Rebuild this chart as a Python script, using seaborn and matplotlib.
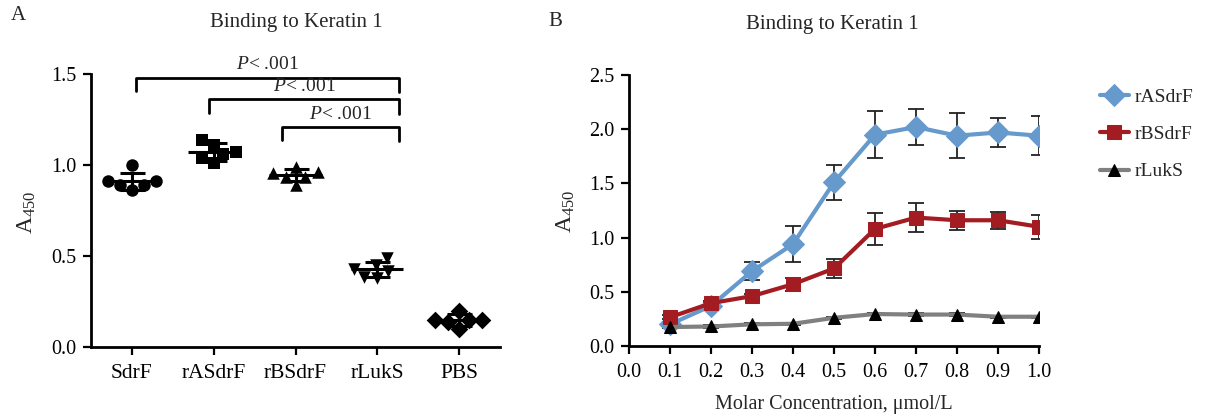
import matplotlib
matplotlib.use("Agg")
import matplotlib.pyplot as plt
import numpy as np
import pandas as pd
import seaborn as sns

# panel A: individual wells (A450)
groups = ["SdrF", "rASdrF", "rBSdrF", "rLukS", "PBS"]
sdrf = [0.91, 0.89, 1.00, 0.86, 0.89, 0.91]
rasdrf = [1.11, 1.06, 1.07, 1.01, 1.14, 1.04]
rbsdrf = [0.96, 0.935, 0.99, 0.89, 0.935, 0.955]
rluks = [0.45, 0.42, 0.49, 0.38, 0.385, 0.43]
pbs = [0.147, 0.15, 0.20, 0.10, 0.14, 0.147]
group_markers = ["o", "s", "^", "v", "D"]

# significance brackets: (left x, right x, bar y, label)
brackets = [(0.05, 3.27, 1.48, "P < .001"),
            (0.94, 3.27, 1.36, "P < .001"),
            (1.84, 3.27, 1.21, "P < .001")]

# panel B: dose response
conc = [0.1, 0.2, 0.3, 0.4, 0.5, 0.6, 0.7, 0.8, 0.9, 1.0]
ras_mean = [0.20, 0.37, 0.69, 0.94, 1.51, 1.95, 2.02, 1.94, 1.97, 1.94]
ras_sd = [0.02, 0.03, 0.085, 0.165, 0.16, 0.22, 0.17, 0.21, 0.13, 0.18]
rbs_mean = [0.265, 0.395, 0.46, 0.57, 0.715, 1.08, 1.185, 1.16, 1.16, 1.10]
rbs_sd = [0.02, 0.02, 0.02, 0.06, 0.09, 0.15, 0.135, 0.09, 0.08, 0.11]
luk_mean = [0.175, 0.18, 0.20, 0.205, 0.26, 0.295, 0.29, 0.29, 0.27, 0.27]
luk_sd = [0.01, 0.01, 0.01, 0.01, 0.01, 0.01, 0.01, 0.01, 0.01, 0.01]

sns.set_style("ticks")
plt.rcParams["font.family"] = ["Liberation Serif", "DejaVu Serif"]
plt.rcParams["mathtext.fontset"] = "custom"
plt.rcParams["mathtext.rm"] = "Liberation Serif"
plt.rcParams["mathtext.it"] = "Liberation Serif:italic"
plt.rcParams["font.size"] = 14

fig = plt.figure(figsize=(12.06, 4.19), dpi=100)
W, H = 1206, 419
axA = fig.add_axes([91 / W, 1 - 347 / H, 409 / W, 273 / H])
axB = fig.add_axes([629 / W, 1 - 346 / H, 410 / W, 271 / H])

for ax in (axA, axB):
    sns.despine(ax=ax)
    for s in ("left", "bottom"):
        ax.spines[s].set_linewidth(2)
        ax.spines[s].set_color("black")
    ax.tick_params(direction="out", length=5.5, width=1.6, colors="black",
                   labelsize=14.5, pad=5)

# ---- Panel A
vals = [sdrf, rasdrf, rbsdrf, rluks, pbs]
df = pd.DataFrame({"group": np.repeat(groups, [len(v) for v in vals]),
                   "A450": np.concatenate(vals)})
for g, m in zip(groups, group_markers):
    sns.swarmplot(data=df[df.group == g], x="group", y="A450", order=groups,
                  marker=m, color="black", size=9, ax=axA, zorder=3)
for i, v in enumerate(vals):
    mu, sd = np.mean(v), np.std(v, ddof=1)
    axA.hlines(mu, i - 0.32, i + 0.32, color="black", lw=2.2, zorder=4)
    axA.errorbar(i, mu, yerr=sd, color="black", capsize=9, capthick=2.2,
                 elinewidth=2.2, zorder=4)
axA.set_xlim(-0.5, 4.5)
axA.set_ylim(0, 1.5)
axA.set_yticks([0, 0.5, 1.0, 1.5])
axA.set_yticklabels(["0.0", "0.5", "1.0", "1.5"])
axA.tick_params(axis="x", labelsize=15.5, pad=7)
axA.set_xlabel("")
axA.set_ylabel("")
for x0, x1, y, lab in brackets:
    axA.plot([x0, x0, x1, x1], [y - 0.075, y, y, y - 0.08], color="black",
             lw=2, clip_on=False)
    axA.text((x0 + x1) / 2, y + 0.045, "$P$< .001", ha="center",
             va="baseline", fontsize=14)

# ---- Panel B
series = [("rASdrF", ras_mean, ras_sd, "#6699cc", "D", 11, "#6699cc"),
          ("rBSdrF", rbs_mean, rbs_sd, "#a31c22", "s", 9.5, "#a31c22"),
          ("rLukS", luk_mean, luk_sd, "#808080", "^", 9, "black")]
for lab, m, sd, col, mk, ms, mc in series:
    axB.errorbar(conc, m, yerr=sd, fmt="none", ecolor="#222222", elinewidth=1.3,
                 capsize=6, capthick=1.3, zorder=2)
    sns.lineplot(x=conc, y=m, color=col, lw=3, marker=mk, markersize=ms,
                 markerfacecolor=mc, markeredgecolor=mc, label=lab, ax=axB,
                 zorder=3)
axB.set_xlim(0, 1.0)
axB.set_ylim(0, 2.5)
axB.set_xticks(np.arange(0, 1.01, 0.1))
axB.set_xticklabels([f"{t:.1f}" for t in np.arange(0, 1.01, 0.1)])
axB.set_yticks([0, 0.5, 1.0, 1.5, 2.0, 2.5])
axB.set_yticklabels(["0.0", "0.5", "1.0", "1.5", "2.0", "2.5"])
axB.tick_params(axis="x", pad=7)
axB.set_ylabel("")
axB.set_xlabel("Molar Concentration, μmol/L", fontsize=14.5, labelpad=9)
axB.legend(loc="upper left", bbox_to_anchor=(1.115, 1.0), frameon=False,
           fontsize=14, handlelength=1.5, labelspacing=1.0, handletextpad=0.3,
           borderaxespad=0.3)

# titles, panel letters, y labels
fig.text(296 / W, 1 - 23 / H, "Binding to Keratin 1", ha="center", va="center",
         fontsize=15)
fig.text(832 / W, 1 - 25 / H, "Binding to Keratin 1", ha="center", va="center",
         fontsize=15)
fig.text(18 / W, 1 - 16 / H, "A", ha="center", va="center", fontsize=15)
fig.text(555 / W, 1 - 21 / H, "B", ha="center", va="center", fontsize=15)
fig.text(27 / W, 1 - 212 / H, "A$_{450}$", rotation=90, ha="center",
         va="center", fontsize=17)
fig.text(566 / W, 1 - 211 / H, "A$_{450}$", rotation=90, ha="center",
         va="center", fontsize=17)

fig.savefig("out.png", dpi=100)
